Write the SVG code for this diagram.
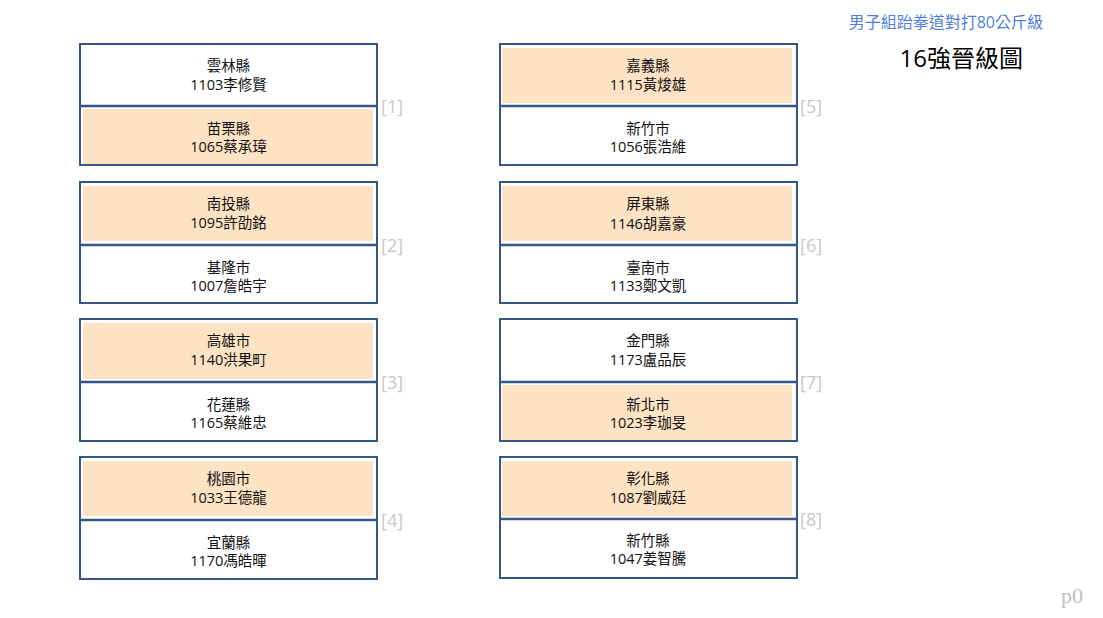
<svg xmlns="http://www.w3.org/2000/svg" width="1103" height="618" viewBox="0 0 1103 618">
<style>
.box{fill:#fff;stroke:#34578a;stroke-width:2}
.div{stroke:#34578a;stroke-width:2.5}
.hl{fill:#fde3c3}
.t{font-family:"Open Sans","Noto Sans CJK TC",sans-serif;font-size:14.5px;fill:#111;text-anchor:middle}
.lab{font-family:"Open Sans","Liberation Sans",sans-serif;font-size:18px;fill:#c8c8c8}
</style>
<rect width="1103" height="618" fill="#fff"/>
<text x="1043" y="28" text-anchor="end" font-family="Open Sans,Noto Sans CJK TC,sans-serif" font-size="16" fill="#4f7fdc">男子組跆拳道對打80公斤級</text>
<text x="1023" y="67" text-anchor="end" font-family="Open Sans,Noto Sans CJK TC,sans-serif" font-size="24" fill="#000">16強晉級圖</text>
<text x="1061" y="603" font-family="Liberation Serif,serif" font-size="22" fill="#c0c0c0">p0</text>
<g id="connectors"></g>
<g id="m1">
<rect class="box" x="80" y="44" width="297" height="121"/>
<rect class="hl" x="83" y="109" width="290" height="55"/>
<line class="div" x1="80" y1="106" x2="377" y2="106"/>
<text class="t" x="228.5" y="71">雲林縣</text><text class="t" x="228.5" y="90">1103李修賢</text>
<text class="t" x="228.5" y="134">苗栗縣</text><text class="t" x="228.5" y="152">1065蔡承璋</text>
<text class="lab" x="381" y="113">[1]</text>
</g>
<g id="m2">
<rect class="box" x="80" y="182" width="297" height="121"/>
<rect class="hl" x="83" y="186" width="290" height="55"/>
<line class="div" x1="80" y1="245" x2="377" y2="245"/>
<text class="t" x="228.5" y="209">南投縣</text><text class="t" x="228.5" y="228">1095許劭銘</text>
<text class="t" x="228.5" y="273">基隆市</text><text class="t" x="228.5" y="291">1007詹皓宇</text>
<text class="lab" x="381" y="252">[2]</text>
</g>
<g id="m3">
<rect class="box" x="80" y="319" width="297" height="122"/>
<rect class="hl" x="83" y="323" width="290" height="56"/>
<line class="div" x1="80" y1="382" x2="377" y2="382"/>
<text class="t" x="228.5" y="346">高雄市</text><text class="t" x="228.5" y="365">1140洪果町</text>
<text class="t" x="228.5" y="410">花蓮縣</text><text class="t" x="228.5" y="428">1165蔡維忠</text>
<text class="lab" x="381" y="389">[3]</text>
</g>
<g id="m4">
<rect class="box" x="80" y="457" width="297" height="122"/>
<rect class="hl" x="83" y="461" width="290" height="55"/>
<line class="div" x1="80" y1="520" x2="377" y2="520"/>
<text class="t" x="228.5" y="484">桃園市</text><text class="t" x="228.5" y="503">1033王德龍</text>
<text class="t" x="228.5" y="548">宜蘭縣</text><text class="t" x="228.5" y="566">1170馮皓暉</text>
<text class="lab" x="381" y="527">[4]</text>
</g>
<g id="m5">
<rect class="box" x="500" y="44" width="297" height="121"/>
<rect class="hl" x="502" y="48" width="290" height="55"/>
<line class="div" x1="500" y1="106" x2="797" y2="106"/>
<text class="t" x="648" y="71">嘉義縣</text><text class="t" x="648" y="90">1115黃焌雄</text>
<text class="t" x="648" y="134">新竹市</text><text class="t" x="648" y="152">1056張浩維</text>
<text class="lab" x="800" y="113">[5]</text>
</g>
<g id="m6">
<rect class="box" x="500" y="182" width="297" height="121"/>
<rect class="hl" x="502" y="186" width="290" height="55"/>
<line class="div" x1="500" y1="245" x2="797" y2="245"/>
<text class="t" x="648" y="209">屏東縣</text><text class="t" x="648" y="229">1146胡嘉豪</text>
<text class="t" x="648" y="273">臺南市</text><text class="t" x="648" y="291">1133鄭文凱</text>
<text class="lab" x="800" y="252">[6]</text>
</g>
<g id="m7">
<rect class="box" x="500" y="319" width="297" height="122"/>
<rect class="hl" x="502" y="385" width="290" height="55"/>
<line class="div" x1="500" y1="382" x2="797" y2="382"/>
<text class="t" x="648" y="346">金門縣</text><text class="t" x="648" y="365">1173盧品辰</text>
<text class="t" x="648" y="410">新北市</text><text class="t" x="648" y="428">1023李珈旻</text>
<text class="lab" x="800" y="389">[7]</text>
</g>
<g id="m8">
<rect class="box" x="500" y="457" width="297" height="121"/>
<rect class="hl" x="502" y="461" width="290" height="55"/>
<line class="div" x1="500" y1="519" x2="797" y2="519"/>
<text class="t" x="648" y="484">彰化縣</text><text class="t" x="648" y="503">1087劉威廷</text>
<text class="t" x="648" y="546">新竹縣</text><text class="t" x="648" y="564">1047姜智騰</text>
<text class="lab" x="800" y="526">[8]</text>
</g>
</svg>
